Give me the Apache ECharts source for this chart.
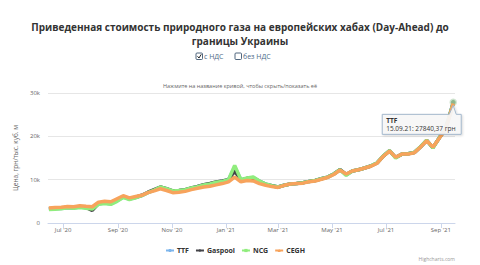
<!DOCTYPE html>
<html>
<head>
<meta charset="utf-8">
<script src="https://cdn.jsdelivr.net/npm/echarts/dist/echarts.min.js"></script>
<style>
  html, body { margin: 0; padding: 0; background: #fff; }
  #chart { width: 480px; height: 265px; }
</style>
</head>
<body>
<div id="chart"></div>
<script>
// ---------- DATA ----------
const dates = [
  '2020-06-15','2020-06-22','2020-06-29',
  '2020-07-06','2020-07-13','2020-07-20','2020-07-27',
  '2020-08-03','2020-08-10','2020-08-17','2020-08-24','2020-08-31',
  '2020-09-07','2020-09-14','2020-09-21','2020-09-28',
  '2020-10-05','2020-10-12','2020-10-19','2020-10-26',
  '2020-11-02','2020-11-09','2020-11-16','2020-11-23','2020-11-30',
  '2020-12-07','2020-12-14','2020-12-21','2020-12-28',
  '2021-01-04','2021-01-11','2021-01-18','2021-01-25',
  '2021-02-01','2021-02-08','2021-02-15','2021-02-22',
  '2021-03-01','2021-03-08','2021-03-15','2021-03-22','2021-03-29',
  '2021-04-05','2021-04-12','2021-04-19','2021-04-26',
  '2021-05-03','2021-05-10','2021-05-17','2021-05-24','2021-05-31',
  '2021-06-07','2021-06-14','2021-06-21','2021-06-28',
  '2021-07-05','2021-07-12','2021-07-19','2021-07-26',
  '2021-08-02','2021-08-09','2021-08-16','2021-08-23','2021-08-30',
  '2021-09-06','2021-09-10','2021-09-15'
];
const ttf = [
  3200,3300,3350,
  3550,3450,3700,3500,
  3300,4400,4600,4400,5100,
  6000,5500,5850,6300,
  7000,7600,8250,7850,
  7350,7450,7650,8050,8400,
  8800,9000,9400,9650,
  10000,13000,10000,10300,
  10500,9650,9000,8600,
  8300,8700,9000,9100,9300,
  9600,9800,10200,10600,
  11300,12300,11100,12000,12300,
  12700,13200,13900,15500,
  16700,15100,15900,16000,
  16300,17600,19100,17350,19600,
  21700,24300,27840.37
];
const gaspool = [
  3300,3400,3450,
  3650,3550,3800,3600,
  2900,4500,4700,4600,5300,
  6100,5600,5950,6400,
  7100,7700,8300,7900,
  7400,7500,7700,8100,8450,
  8850,9100,9450,9700,
  10000,12000,9900,10300,
  10400,9600,8900,8600,
  8300,8700,9000,9100,9300,
  9600,9800,10200,10600,
  11300,12300,11200,12000,12300,
  12700,13150,13850,15450,
  16650,15100,15900,16000,
  16250,17550,19050,17400,19550,
  21600,24100,27700
];
const ncg = [
  3100,3200,3300,
  3500,3400,3600,3400,
  3200,4300,4500,4300,5000,
  5900,5400,5800,6300,
  7000,7600,8300,7900,
  7400,7500,7700,8100,8400,
  8800,9000,9400,9600,
  10000,13300,10000,10400,
  10600,9700,9000,8600,
  8300,8700,9000,9100,9300,
  9600,9800,10200,10600,
  11300,12300,11000,12000,12300,
  12700,13200,13900,15500,
  16700,15000,15900,16000,
  16300,17600,19100,17300,19600,
  21600,24200,27700
];
const cegh = [
  3450,3600,3650,
  3800,3750,4000,3850,
  3750,4800,5000,4900,5600,
  6300,5800,6100,6400,
  7000,7400,7900,7500,
  7000,7100,7300,7700,8000,
  8300,8500,8800,9100,
  9500,10600,9500,9800,
  9700,9100,8700,8400,
  8200,8700,9000,9100,9200,
  9500,9700,10100,10500,
  11200,12200,11300,12000,12300,
  12700,13100,13800,15400,
  16600,15200,15900,15900,
  16200,17500,19000,17500,19500,
  21500,24000,27600
];
const seriesNames = ['TTF', 'Gaspool', 'NCG', 'CEGH'];
const tickDates = ['2020-07-01','2020-09-01','2020-11-01','2021-01-01','2021-03-01','2021-05-01','2021-07-01','2021-09-01'];
const tickLabels = ["Jul '20","Sep '20","Nov '20","Jan '21","Mar '21","May '21","Jul '21","Sep '21"];
const yTicks = [0, 10000, 20000, 30000];
const yTickLabels = ['0', '10k', '20k', '30k'];
const tooltipDate = '15.09.21';
const tooltipValue = '27840,37';

// ---------- BUILD ----------
const ts = s => new Date(s + 'T00:00:00Z').getTime();
const tickTs = tickDates.map(ts);
const pairs = arr => arr.map((v, i) => [ts(dates[i]), v]);
const colors = ['#7cb5ec', '#434348', '#90ed7d', '#f7a35c'];
const symbols = ['circle', 'diamond', 'rect', 'triangle'];
const values = [ttf, gaspool, ncg, cegh];
const lastIdx = ttf.length - 1;
const FONT = 'Open Sans';

const chart = echarts.init(document.getElementById('chart'), null, { renderer: 'svg' });

const series = values.map((arr, i) => ({
  name: seriesNames[i],
  type: 'line',
  data: pairs(arr),
  color: colors[i],
  symbol: symbols[i],
  symbolSize: 4,
  showSymbol: false,
  lineStyle: { width: 3.5, color: colors[i] },
  itemStyle: { color: colors[i] },
  emphasis: { disabled: true },
  animation: false,
  z: 2 + i
}));

series[0].markPoint = {
  symbol: 'circle',
  symbolSize: 5,
  silent: true,
  animation: false,
  label: { show: false },
  itemStyle: { color: '#8fb58c', borderColor: 'rgba(150,195,150,0.45)', borderWidth: 2.5 },
  data: [{ coord: [ts(dates[lastIdx]), ttf[lastIdx]] }]
};

const baseGraphic = [
  { type: 'rect', shape: { x: 196, y: 53, width: 6.5, height: 6.5, r: 1 }, style: { fill: '#fff', stroke: '#3d5670', lineWidth: 0.9 } },
  { type: 'polyline', shape: { points: [[197.5, 56.3], [199, 58], [201.3, 54.3]] }, style: { fill: null, stroke: '#222', lineWidth: 1 } },
  { type: 'text', style: { x: 204, y: 56.5, text: 'с НДС', fontFamily: FONT, fontSize: 7, fill: '#4d6a88', textVerticalAlign: 'middle' } },
  { type: 'rect', shape: { x: 235, y: 53, width: 6.5, height: 6.5, r: 1 }, style: { fill: '#fff', stroke: '#3d5670', lineWidth: 0.9 } },
  { type: 'text', style: { x: 243, y: 56.5, text: 'без НДС', fontFamily: FONT, fontSize: 7, fill: '#4d6a88', textVerticalAlign: 'middle' } },
  { type: 'text', right: 25, bottom: 4, style: { text: 'Highcharts.com', fontFamily: FONT, fontSize: 5, fill: '#999' } }
];

const option = {
  backgroundColor: '#fff',
  animation: false,
  title: [
    {
      text: 'Приведенная стоимость природного газа на европейских хабах (Day-Ahead) до\nграницы Украины',
      left: 'center',
      top: 15,
      textStyle: { fontFamily: FONT, fontWeight: 'bold', fontSize: 10, lineHeight: 14, color: '#333' }
    },
    {
      text: 'Нажмите на название кривой, чтобы скрыть/показать её',
      left: 'center',
      top: 78,
      textStyle: { fontFamily: FONT, fontWeight: 'normal', fontSize: 5.5, color: '#666' }
    }
  ],
  grid: { left: 48, right: 25, top: 93, bottom: 42, containLabel: false },
  legend: {
    data: seriesNames,
    left: 160,
    top: 242,
    itemWidth: 8,
    itemHeight: 4,
    itemGap: 6,
    textStyle: { fontFamily: FONT, fontWeight: 'bold', fontSize: 7, color: '#333', padding: [0, 0, 0, -2] }
  },
  xAxis: {
    type: 'value',
    min: ts('2020-06-14'),
    max: ts('2021-09-17'),
    axisLine: { show: true, lineStyle: { color: '#ccd6eb', width: 1 } },
    axisTick: { show: true, customValues: tickTs, length: 5, lineStyle: { color: '#ccd6eb' } },
    axisLabel: {
      customValues: tickTs,
      margin: 4,
      fontFamily: FONT,
      fontSize: 6,
      color: '#666',
      formatter: v => { const k = tickTs.indexOf(v); return k >= 0 ? tickLabels[k] : ''; }
    },
    splitLine: { show: false }
  },
  yAxis: {
    type: 'value',
    min: 0,
    max: 30000,
    interval: 10000,
    name: 'Цена, грн/тыс. куб. м',
    nameLocation: 'middle',
    nameGap: 22,
    nameTextStyle: { fontFamily: FONT, fontSize: 6.5, color: '#666' },
    axisLine: { show: false },
    axisTick: { show: false },
    axisLabel: {
      margin: 8,
      fontFamily: FONT,
      fontSize: 6,
      color: '#666',
      formatter: v => { const k = yTicks.indexOf(v); return k >= 0 ? yTickLabels[k] : ''; }
    },
    splitLine: { lineStyle: { color: '#e6e6e6', width: 1 } }
  },
  graphic: baseGraphic,
  series: series
};

chart.setOption(option);

// static tooltip (callout) anchored to the last TTF point
const pt = chart.convertToPixel({ gridIndex: 0 }, [ts(dates[lastIdx]), ttf[lastIdx]]);
const bx = pt[0] - 71, by = pt[1] + 12, bw = 79, bh = 20;
chart.setOption({
  graphic: baseGraphic.concat([
    {
      type: 'polygon', z: 100,
      shape: { points: [[bx, by], [pt[0] - 4, by], [pt[0], pt[1] + 3], [pt[0] + 3, by], [bx + bw, by], [bx + bw, by + bh], [bx, by + bh]] },
      style: { fill: 'rgba(247,247,247,0.93)', stroke: '#a3b8cc', lineWidth: 1, shadowBlur: 2, shadowOffsetX: 1, shadowOffsetY: 1, shadowColor: 'rgba(0,0,0,0.15)' }
    },
    { type: 'text', z: 101, style: { x: bx + 4, y: by + 6, text: 'TTF', fontFamily: FONT, fontWeight: 'bold', fontSize: 6.5, fill: '#333', textVerticalAlign: 'middle' } },
    { type: 'text', z: 101, style: { x: bx + 4, y: by + 14, text: tooltipDate + ': ' + tooltipValue + ' грн', fontFamily: FONT, fontSize: 6.5, fill: '#333', textVerticalAlign: 'middle' } }
  ])
});
</script>
</body>
</html>
